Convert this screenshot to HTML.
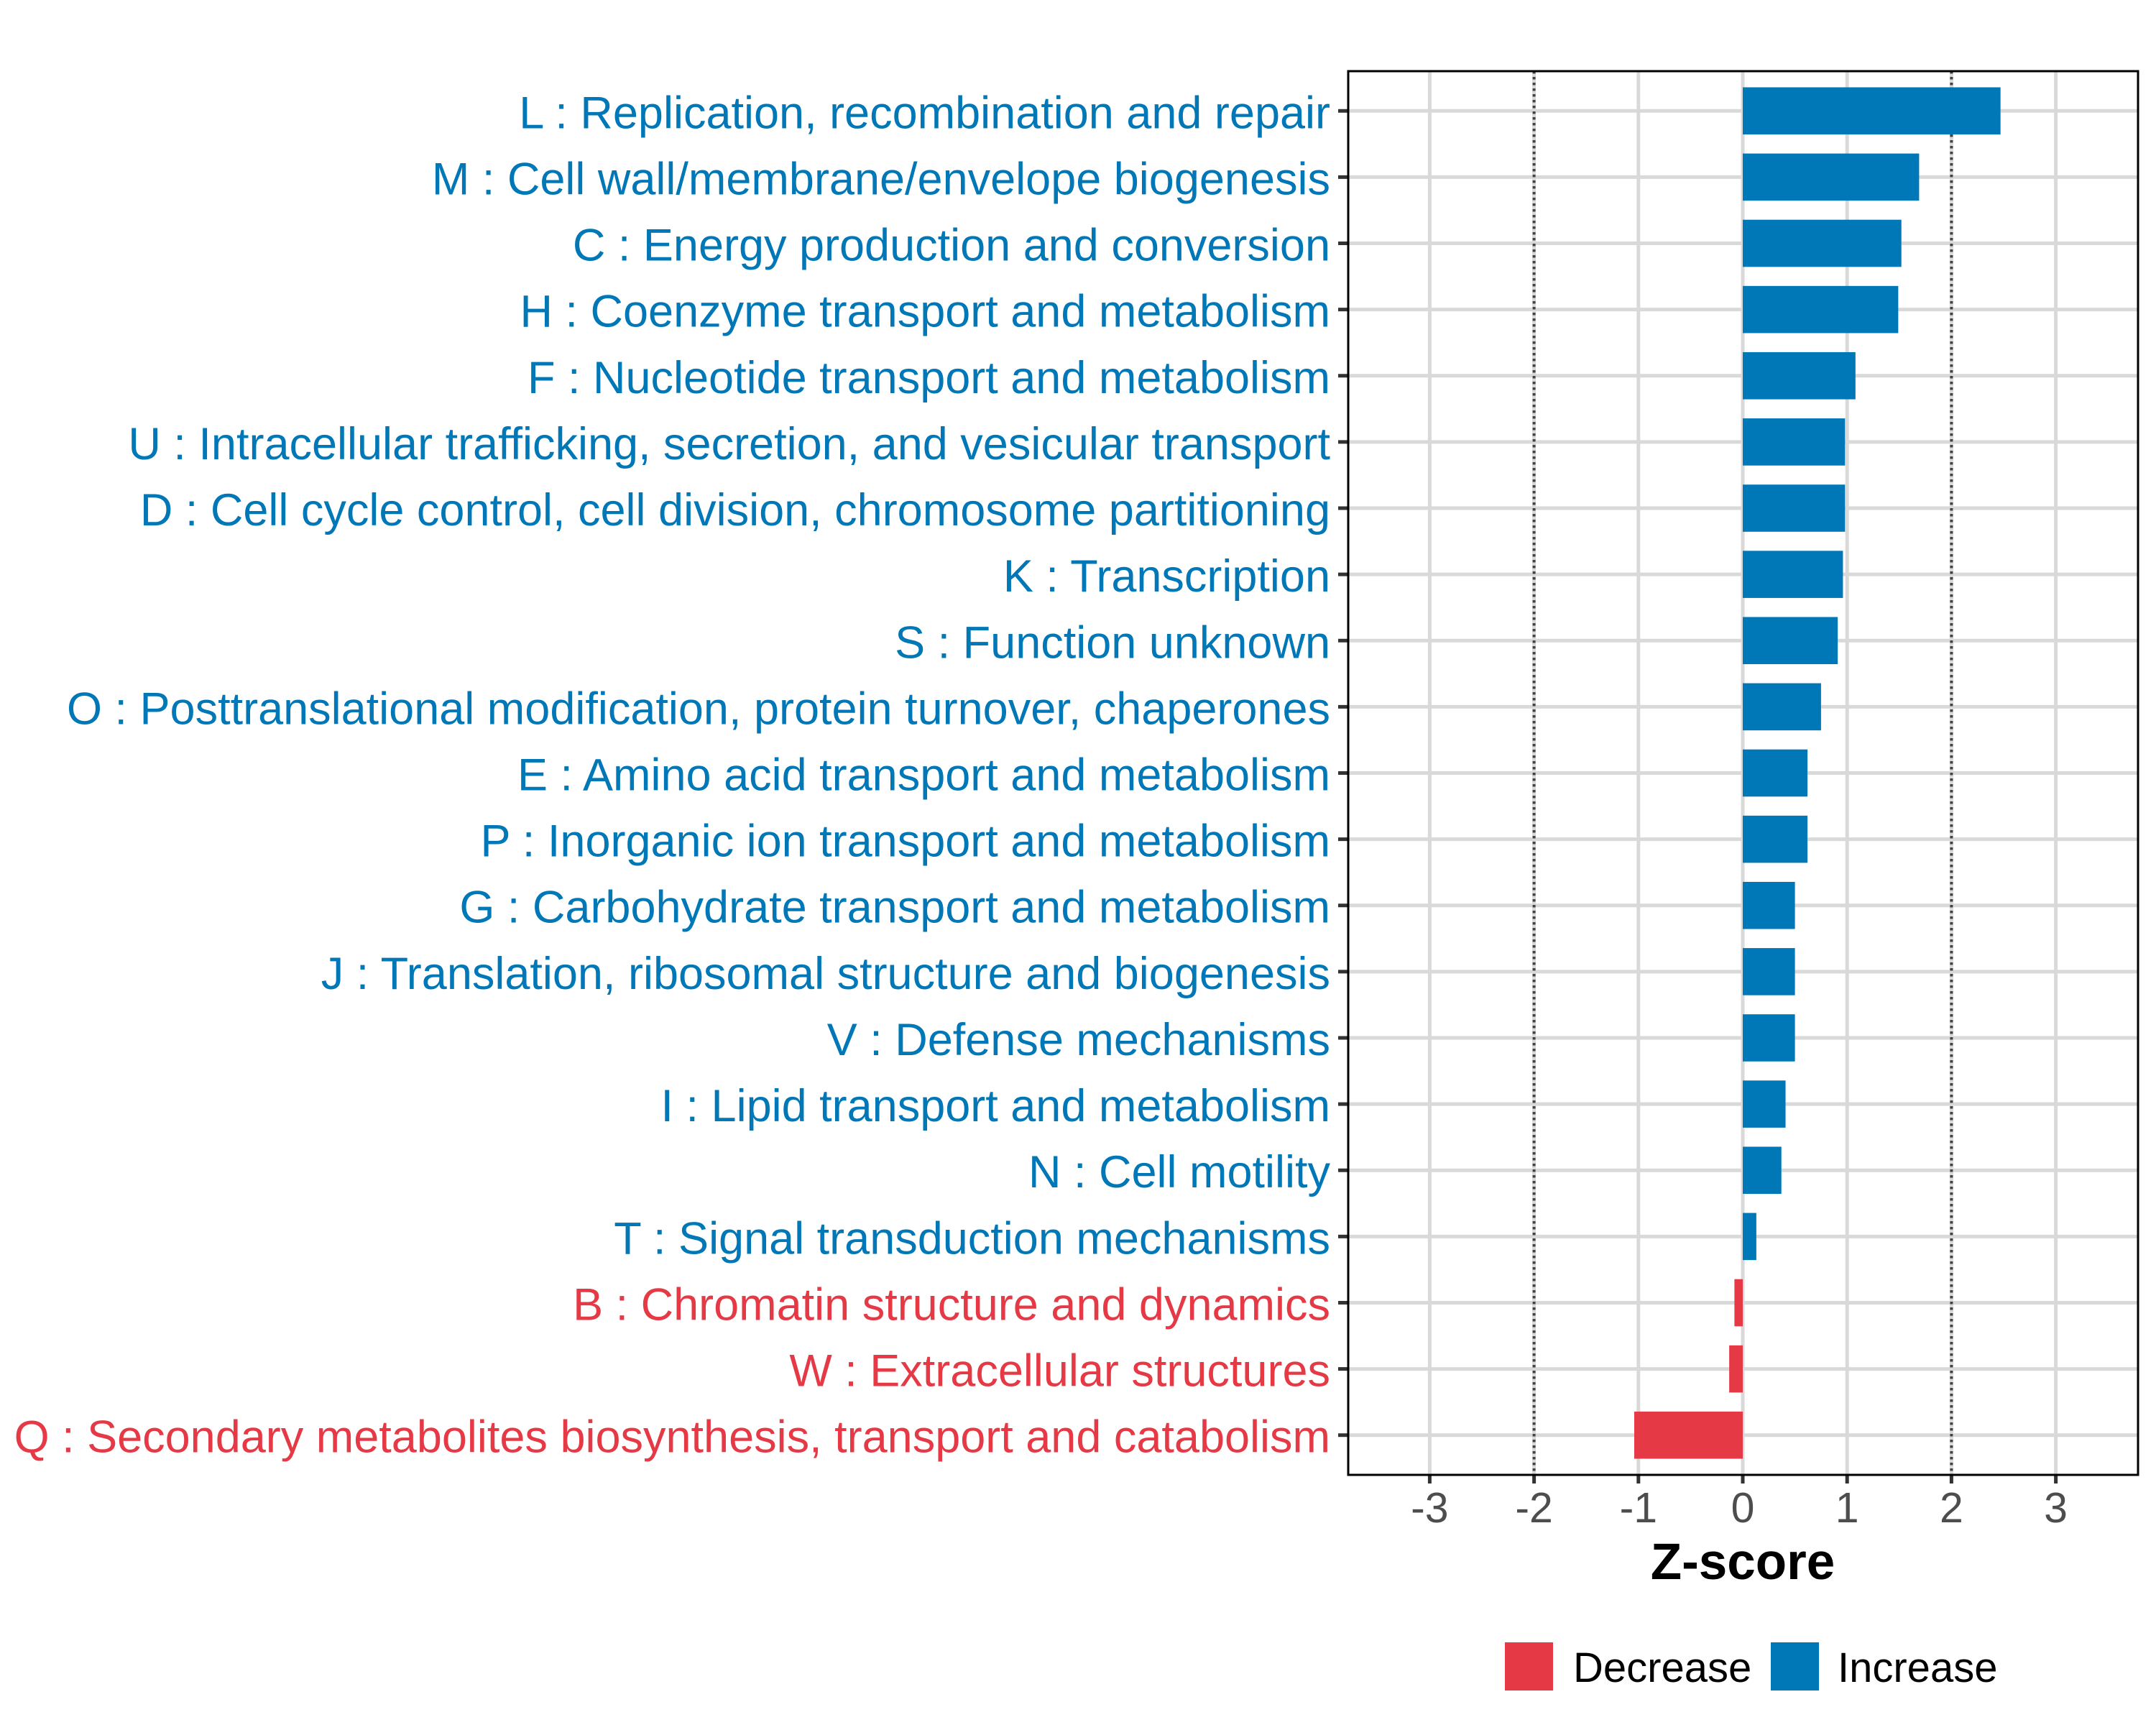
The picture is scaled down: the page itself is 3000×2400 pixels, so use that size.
<!DOCTYPE html>
<html><head><meta charset="utf-8"><style>html,body{margin:0;padding:0;background:#fff}svg{display:block}text{font-family:"Liberation Sans",Arial,sans-serif}</style></head>
<body>
<svg id="chart" width="3000" height="2400" viewBox="0 0 3000 2400" xmlns="http://www.w3.org/2000/svg">
<rect width="3000" height="2400" fill="#fff"/>
<g id="grid"></g>
<g id="bars"></g>
<g id="axes"></g>
<text x="2425" y="2197" text-anchor="middle" font-size="71" font-weight="bold" fill="#000">Z-score</text>
<g>
<rect x="2094" y="2285" width="67" height="67" fill="#E63946"/>
<text x="2189" y="2340" font-size="58" fill="#000">Decrease</text>
<rect x="2464" y="2285" width="67" height="67" fill="#0077B6"/>
<text x="2557" y="2340" font-size="58" fill="#000">Increase</text>
</g>
</svg>
<script>
const categories = [
"L : Replication, recombination and repair",
"M : Cell wall/membrane/envelope biogenesis",
"C : Energy production and conversion",
"H : Coenzyme transport and metabolism",
"F : Nucleotide transport and metabolism",
"U : Intracellular trafficking, secretion, and vesicular transport",
"D : Cell cycle control, cell division, chromosome partitioning",
"K : Transcription",
"S : Function unknown",
"O : Posttranslational modification, protein turnover, chaperones",
"E : Amino acid transport and metabolism",
"P : Inorganic ion transport and metabolism",
"G : Carbohydrate transport and metabolism",
"J : Translation, ribosomal structure and biogenesis",
"V : Defense mechanisms",
"I : Lipid transport and metabolism",
"N : Cell motility",
"T : Signal transduction mechanisms",
"B : Chromatin structure and dynamics",
"W : Extracellular structures",
"Q : Secondary metabolites biosynthesis, transport and catabolism"];
const zscores = [2.47,1.69,1.52,1.49,1.08,0.98,0.98,0.96,0.91,0.75,0.62,0.62,0.50,0.50,0.50,0.41,0.37,0.13,-0.08,-0.13,-1.04];
const xTicks = [-3,-2,-1,0,1,2,3];
const xTickLabels = ["-3","-2","-1","0","1","2","3"];
const thresholds = [-2,2];

const NS="http://www.w3.org/2000/svg";
const PL=1876, PR=2975, PT=99, PB=2052;
const X0=2425, UNIT=145.2;
const xs = v => X0 + v*UNIT;
const n = categories.length;
const STEP = (PB-PT)/(n-1+1.2);
const ys = i => PT + STEP*(0.6+i);
function mk(tag, attrs, parent){const e=document.createElementNS(NS,tag);for(const k in attrs)e.setAttribute(k,attrs[k]);parent.appendChild(e);return e;}
const grid=document.getElementById('grid'), bars=document.getElementById('bars'), axes=document.getElementById('axes');

for(let i=0;i<n;i++){
  const l=mk('line',{x1:PL,x2:PR,y1:ys(i),y2:ys(i),stroke:'#d9d9d9','stroke-width':5},grid);
  
  
}
xTicks.forEach(t=>{
  const l=mk('line',{x1:xs(t),x2:xs(t),y1:PT,y2:PB,stroke:'#d9d9d9','stroke-width':5},grid);
  
  
});
thresholds.forEach(t=>{
  const l=mk('line',{x1:xs(t),x2:xs(t),y1:PT,y2:PB,stroke:'#444','stroke-width':4,'stroke-dasharray':'3.5 4.5'},grid);
  
  
});
const BH = STEP*0.712;
zscores.forEach((v,i)=>{
  const col = v<0 ? '#E63946' : '#0077B6';
  const r=mk('rect',{x:Math.min(xs(0),xs(v)),y:ys(i)-BH/2,width:Math.abs(xs(v)-xs(0)),height:BH,fill:col},bars);
  
  
  const t=mk('text',{x:1851,y:ys(i)+24,'text-anchor':'end','font-size':63,fill:col},axes);
  t.textContent=categories[i];
  
  
  const tk=mk('line',{x1:1862,x2:PL,y1:ys(i),y2:ys(i),stroke:'#333','stroke-width':5},axes);
  
  
});
xTicks.forEach((t,i)=>{
  const tk=mk('line',{x1:xs(t),x2:xs(t),y1:PB,y2:PB+12,stroke:'#333','stroke-width':5},axes);
  
  
  const lb=mk('text',{x:xs(t),y:2118,'text-anchor':'middle','font-size':59,fill:'#4d4d4d'},axes);
  lb.textContent=xTickLabels[i];
  
  
});
const bd=mk('rect',{x:PL,y:PT,width:PR-PL,height:PB-PT,fill:'none',stroke:'#000','stroke-width':3},axes);


</script>
</body></html>
